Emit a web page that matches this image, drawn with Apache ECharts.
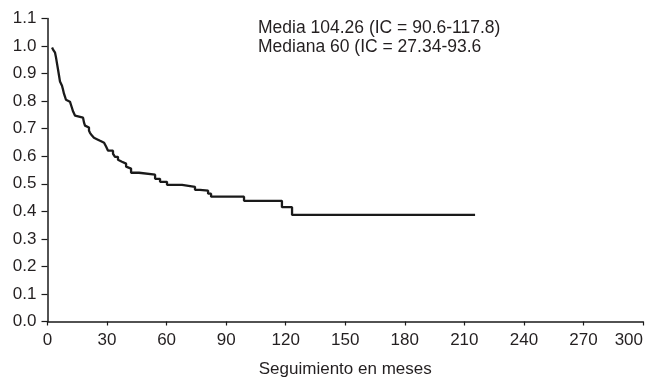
<!DOCTYPE html>
<html>
<head>
<meta charset="utf-8">
<script src="https://cdn.jsdelivr.net/npm/echarts@6/dist/echarts.min.js"></script>
<style>
html,body{margin:0;padding:0;background:#fff;}
#chart{width:652px;height:381px;}
</style>
</head>
<body>
<div id="chart"></div>
<script>
// Kaplan-Meier survival estimates (time in months)
var times = [2.3, 2.8, 3.8, 4.3, 4.8, 5.3, 5.8, 6.3, 7.3, 7.8, 8.3, 8.8, 9.3, 10.3, 11.3, 12.3, 12.9, 13.9, 14.4,
  17.9, 18.4, 18.9, 19.9, 20.9, 21.4, 22.4, 23.4, 24.4, 25.4, 26.5, 27.5, 28.5, 29.5, 30.5, 33.0, 34.0, 35.5,
  36.5, 37.5, 39.6, 40.6, 42.1, 46.1, 54.2, 56.7, 60.2, 67.8, 74.3, 76.8, 80.9, 82.4, 99.0, 118.1, 123.2, 215.4];
var survival = [0.995, 0.987, 0.976, 0.958, 0.936, 0.915, 0.893, 0.871, 0.856, 0.842, 0.827, 0.816, 0.805, 0.798,
  0.791, 0.776, 0.762, 0.747, 0.740, 0.733, 0.722, 0.711, 0.704, 0.693, 0.685, 0.675, 0.667, 0.660, 0.656, 0.653,
  0.649, 0.642, 0.635, 0.620, 0.609, 0.598, 0.587, 0.580, 0.573, 0.562, 0.555, 0.540, 0.533, 0.518, 0.507, 0.496,
  0.489, 0.478, 0.475, 0.464, 0.453, 0.438, 0.415, 0.387, 0.387];
var xTicks = [0, 30, 60, 90, 120, 150, 180, 210, 240, 270, 300];
var yTicks = [0.0, 0.1, 0.2, 0.3, 0.4, 0.5, 0.6, 0.7, 0.8, 0.9, 1.0, 1.1];
var xTitle = 'Seguimiento en meses';
var notes = ['Media 104.26 (IC = 90.6-117.8)', 'Mediana 60 (IC = 27.34-93.6'];

var pts = times.map(function (t, i) { return [t, survival[i]]; });
var txt = '#231f20';
var fontFam = '"Liberation Sans", Arial, sans-serif';
var fs = 17;

var chart = echarts.init(document.getElementById('chart'), null, {renderer: 'canvas'});
chart.setOption({
  animation: false,
  backgroundColor: '#ffffff',
  grid: {left: 47.5, right: 9, top: 18.5, bottom: 59.5, containLabel: false, outerBoundsMode: 'none'},
  xAxis: {
    type: 'value', min: xTicks[0], max: xTicks[xTicks.length - 1], interval: 30,
    name: xTitle, nameLocation: 'middle', nameGap: 39,
    nameTextStyle: {color: txt, fontSize: fs, fontFamily: fontFam},
    axisLine: {show: true, lineStyle: {color: '#1a1a1a', width: 1.5}},
    axisTick: {show: true, length: 4, lineStyle: {color: '#1a1a1a', width: 1.2}},
    axisLabel: {color: txt, fontSize: fs, fontFamily: fontFam, margin: 10, hideOverlap: false,
      alignMaxLabel: 'right'},
    splitLine: {show: false}
  },
  yAxis: {
    type: 'value', min: yTicks[0], max: yTicks[yTicks.length - 1], interval: 0.1,
    axisLine: {show: true, lineStyle: {color: '#1a1a1a', width: 1.5}},
    axisTick: {show: true, length: 6, lineStyle: {color: '#1a1a1a', width: 1.2}},
    axisLabel: {color: txt, fontSize: fs, fontFamily: fontFam, margin: 11, hideOverlap: false,
      formatter: function (v) { return v.toFixed(1); }},
    splitLine: {show: false}
  },
  graphic: [{
    type: 'text', left: 258, top: 19,
    style: {text: notes.join('\n'), fill: txt, font: '17.5px ' + fontFam, lineHeight: 19}
  }],
  series: [{
    type: 'line', step: 'end', data: pts, showSymbol: false, symbol: 'none',
    lineStyle: {color: '#1a1a1a', width: 2.3}
  }]
});
</script>
</body>
</html>
